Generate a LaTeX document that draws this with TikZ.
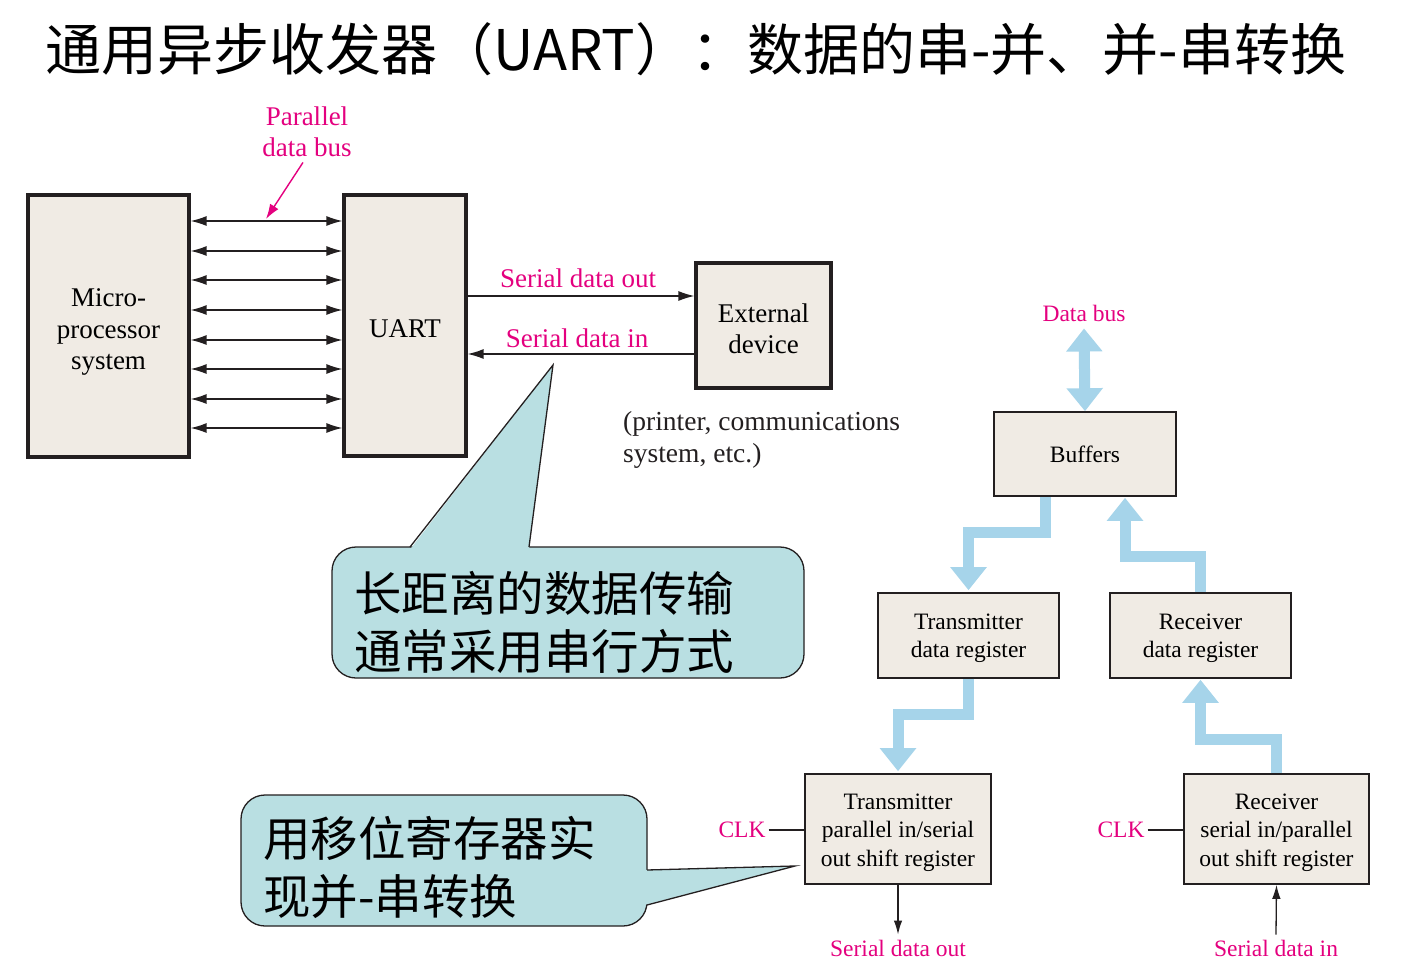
\documentclass[tikz,border=0pt]{standalone}
\usepackage{fontspec}
\setmainfont{Liberation Serif}
\newfontfamily\cjk{Noto Sans CJK SC}
\usetikzlibrary{arrows.meta,calc}
\definecolor{mag}{RGB}{228,0,127}
\definecolor{boxfill}{RGB}{240,235,228}
\definecolor{bluec}{RGB}{166,212,234}
\definecolor{callfill}{RGB}{185,223,226}
\definecolor{ink}{RGB}{35,31,32}
\newcommand{\lowtext}[2]{\raisebox{-#1}[\height][\depth]{\begin{tabular}{@{}c@{}}#2\end{tabular}}}
\begin{document}
\begin{tikzpicture}[x=1pt,y=-1pt,
  bigbox/.style={draw=ink,line width=3.2pt,fill=boxfill,inner sep=0pt,
    font=\fontsize{27}{31.5}\selectfont},
  smallbox/.style={draw=ink,line width=1.6pt,fill=boxfill,inner sep=0pt,
    font=\fontsize{23.5}{27.5}\selectfont},
  biglbl/.style={text=mag,inner sep=2pt,align=center,font=\fontsize{27}{31.5}\selectfont},
  smalllbl/.style={text=mag,inner sep=3pt,align=center,font=\fontsize{23.5}{27.5}\selectfont},
  busarrow/.style={draw=ink,line width=1.4pt,{Latex[length=16pt,width=10pt]}-{Latex[length=16pt,width=10pt]}},
  sarrow/.style={draw=ink,line width=1.4pt,-{Latex[length=16pt,width=10pt]}},
  thinarrow/.style={draw=ink,line width=1.3pt,-{Latex[length=14pt,width=8.5pt]}},
  bluearr/.style={draw=bluec,line width=11pt,line join=miter,line cap=butt,-{Triangle[length=23pt,width=35pt]}},
  callout/.style={draw=ink,line width=1.3pt,fill=callfill,rounded corners=24pt,inner sep=0pt},
  cjktext/.style={inner sep=0pt,align=left,anchor=west,font=\cjk\fontsize{47.5}{58}\selectfont}
]
\useasboundingbox (0,0) rectangle (1401,979);
\fill[white] (0,0) rectangle (1401,979);

% title
\node[inner sep=0pt,font=\cjk\fontsize{56}{60}\selectfont] (title) at (696,49)
  {通用异步收发器（UART）：数据的串-并、并-串转换};

% left diagram
\node[bigbox,minimum width=161pt,minimum height=262pt] (micro) at (108.5,326) {\lowtext{6pt}{Micro-\\processor\\system}};
\node[bigbox,minimum width=122pt,minimum height=261pt] (uart) at (405,325.5) {\lowtext{6pt}{UART}};
\node[bigbox,minimum width=135pt,minimum height=125pt] (ext) at (763.5,325.5) {\lowtext{6pt}{External\\device}};

\foreach \yy in {221,251,280,310,340,369,399,428}
  \draw[busarrow] (micro.east |- 0,\yy) -- (uart.west |- 0,\yy);

\node[biglbl] (pdb) at (307,132) {Parallel\\data bus};
\coordinate (busmark) at (266,219);
\draw[draw=mag,line width=1.4pt,-{Latex[length=15pt,width=10pt]}] ($(pdb.south)+(-4,3)$) -- (busmark);

\draw[sarrow] (uart.east |- 0,296) -- (ext.west |- 0,296);
\draw[sarrow] (ext.west |- 0,354) -- (uart.east |- 0,354);
\node[biglbl] (sdo) at (578,278) {Serial data out};
\node[biglbl] (sdi) at (577,338) {Serial data in};

\node[inner sep=0pt,anchor=west,align=left,text=ink,font=\fontsize{27.5}{31.5}\selectfont] (printer) at (623,440)
  {(printer, communications\\system, etc.)};

% callout 1
\node[callout,minimum width=472pt,minimum height=131pt] (c1) at (568,612.5) {};
\fill[callfill] (410,549.5) -- (553,365) -- (529,549.5) -- cycle;
\draw[draw=ink,line width=1.3pt,line join=miter] (410,547) -- (553,365) -- (529,547);
\node[cjktext] (t1) at (354,622) {长距离的数据传输\\通常采用串行方式};

% callout 2
\node[callout,minimum width=406pt,minimum height=131pt] (c2) at (444,860.5) {};
\fill[callfill] (644.5,870) -- (795,866) -- (644.5,905) -- cycle;
\draw[draw=ink,line width=1.3pt,line join=miter] (647,870) -- (795,866) -- (647,905);
\node[cjktext] (t2) at (263,867) {用移位寄存器实\\现并-串转换};

% right diagram
\node[smalllbl] (db) at (1084,313) {Data bus};
\node[smallbox,minimum width=182pt,minimum height=84pt] (buf) at (1085,454) {\lowtext{3pt}{Buffers}};
\node[smallbox,minimum width=181pt,minimum height=85pt] (txr) at (968.5,635.5) {\lowtext{2.5pt}{Transmitter\\data register}};
\node[smallbox,minimum width=181pt,minimum height=85pt] (rxr) at (1200.5,635.5) {\lowtext{2.5pt}{Receiver\\data register}};
\node[smallbox,minimum width=186pt,minimum height=110pt,font=\fontsize{23.5}{28.5}\selectfont] (txs) at (898,829)
  {\lowtext{3pt}{Transmitter\\parallel in/serial\\out shift register}};
\node[smallbox,minimum width=185pt,minimum height=110pt,font=\fontsize{23.5}{28.5}\selectfont] (rxs) at (1276.5,829)
  {\lowtext{3pt}{Receiver\\serial in/parallel\\out shift register}};

\draw[bluearr,{Triangle[length=23pt,width=35pt]}-{Triangle[length=23pt,width=35pt]}]
  ($(db.south)+(0,4)$) -- (buf.north);
\draw[bluearr,shorten >=2pt] ([xshift=-40pt]buf.south) -- ++(0,36) -| (txr.north);
\draw[bluearr,shorten >=1pt] (rxr.north) -- ++(0,-36) -| ([xshift=40pt]buf.south);
\draw[bluearr,shorten >=2pt] (txr.south) -- ++(0,36) -| (txs.north);
\draw[bluearr,shorten >=1pt] (rxs.north) -- ++(0,-34) -| (rxr.south);

\node[smalllbl] (clk1) at (742,830) {CLK};
\node[smalllbl] (clk2) at (1121,830) {CLK};
\draw[draw=ink,line width=1.3pt] (clk1.east) -- (txs.west |- clk1.east);
\draw[draw=ink,line width=1.3pt] (clk2.east) -- (rxs.west |- clk2.east);

\node[smalllbl] (so2) at (898,948) {Serial data out};
\node[smalllbl] (si2) at (1276,948) {Serial data in};
\draw[thinarrow] (txs.south) -- ($(so2.north)+(0,-2)$);
\draw[thinarrow] ($(si2.north)+(0,-2)$) -- (rxs.south);
\end{tikzpicture}
\end{document}
